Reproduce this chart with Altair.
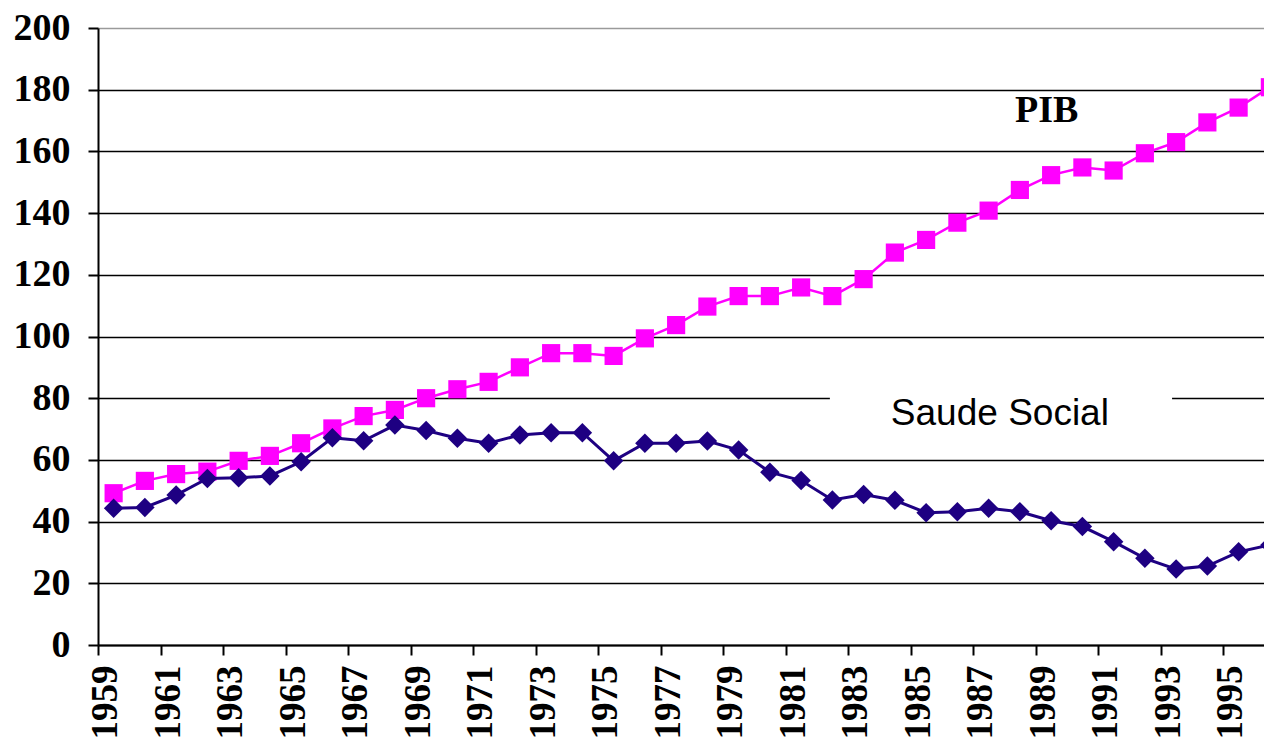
import altair as alt
import pandas as pd

# ---- data ----
years = list(range(1959, 1997))
pib = [49.2, 53.2, 55.4, 56.2, 59.7, 61.3, 65.4, 70.2, 74.2, 76.2,
       80.0, 82.9, 85.3, 90.0, 94.6, 94.6, 93.7, 99.4, 103.7, 109.7,
       113.1, 113.1, 115.9, 113.1, 118.6, 127.2, 131.3, 136.9, 140.8, 147.5,
       152.3, 154.8, 153.8, 159.4, 163.0, 169.4, 174.2, 180.8]
saude = [44.3, 44.6, 48.6, 54.0, 54.2, 54.8, 59.4, 67.2, 66.2, 71.3,
         69.5, 67.0, 65.4, 68.1, 68.8, 68.8, 59.7, 65.4, 65.4, 66.1,
         63.2, 56.0, 53.3, 47.0, 48.8, 46.9, 42.9, 43.2, 44.3, 43.2,
         40.3, 38.4, 33.5, 28.1, 24.6, 25.6, 30.2, 32.4]
y_ticks = list(range(0, 201, 20))
# ticks sit on the boundaries between years; labels (every other year) sit mid-band
band_edges = [1958.5 + i for i in range(39)]

series_labels = ["PIB", "Saude Social"]

df = pd.DataFrame({"year": years, "pib": pib, "saude": saude})

# annotation placement (data units)
ann = pd.DataFrame({
    "label": series_labels,
    "x": [1988.86, 1987.36],
    "y": [169.6, 71.3],
})
mask = pd.DataFrame({"x": [1981.92], "x2": [1992.87], "y": [73.0], "y2": [86.0]})

PIB_COLOR = "#FF00FF"
SAUDE_COLOR = "#1E0082"

PLOT_W = 1166
BAND = 31.25  # px per year

# the plot is cut on the right, as in the reference
xscale = alt.Scale(domain=[1958.5, 1958.5 + PLOT_W / BAND], nice=False, zero=False)
yscale = alt.Scale(domain=[0, 200], nice=False)

is_label = "(datum.value + 0.5) % 2 == 1"

xaxis = alt.Axis(
    values=band_edges,
    grid=False,
    labelExpr=f"{is_label} ? '' + (datum.value + 0.5) : ''",
    labelAngle=270,
    labelAlign="right",
    labelBaseline="alphabetic",
    labelFont="Liberation Serif",
    labelFontWeight="bold",
    labelFontSize={"condition": {"test": is_label, "value": 37}, "value": 0},
    labelColor="black",
    labelPadding=10,
    labelOffset=BAND / 2 + 3,
    labelOverlap=False,
    labelFlush=False,
    labelBound=False,
    tickSize=10,
    tickWidth=2,
    tickColor="black",
    domainColor="black",
    domainWidth=2,
)

yaxis = alt.Axis(
    values=y_ticks,
    grid=True,
    gridColor={"condition": {"test": "datum.value == 200", "value": "#9a9a9a"}, "value": "black"},
    gridWidth=1.7,
    labelFont="Liberation Serif",
    labelFontWeight="bold",
    labelFontSize=38,
    labelColor="black",
    labelPadding=18,
    tickSize=10,
    tickWidth=2,
    tickColor="black",
    domainColor="black",
    domainWidth=2,
)

base = alt.Chart(df)

mask_layer = alt.Chart(mask).mark_rect(color="white").encode(
    x=alt.X("x:Q", scale=xscale, axis=xaxis, title=None),
    x2="x2:Q",
    y=alt.Y("y:Q", scale=yscale, axis=yaxis, title=None),
    y2="y2:Q",
)

pib_line = base.mark_line(color=PIB_COLOR, strokeWidth=2.5).encode(
    x=alt.X("year:Q", scale=xscale, axis=xaxis, title=None),
    y=alt.Y("pib:Q", scale=yscale, axis=yaxis, title=None),
)
pib_pts = base.mark_point(shape="square", filled=True, opacity=1, color=PIB_COLOR, size=330).encode(
    x="year:Q", y="pib:Q"
)
saude_line = base.mark_line(color=SAUDE_COLOR, strokeWidth=3).encode(
    x="year:Q", y="saude:Q"
)
saude_pts = base.mark_point(shape="diamond", filled=True, opacity=1, color=SAUDE_COLOR, size=380).encode(
    x="year:Q", y="saude:Q"
)

pib_text = alt.Chart(ann[ann.label == "PIB"]).mark_text(
    font="Liberation Serif", fontWeight="bold", fontSize=38, color="black",
    align="center", baseline="alphabetic"
).encode(x="x:Q", y="y:Q", text="label:N")

saude_text = alt.Chart(ann[ann.label == "Saude Social"]).mark_text(
    font="Liberation Sans", fontSize=37, color="black",
    align="center", baseline="alphabetic"
).encode(x="x:Q", y="y:Q", text="label:N")

chart = alt.layer(
    mask_layer, pib_line, pib_pts, saude_line, saude_pts, pib_text, saude_text
).properties(
    width=PLOT_W,
    height=617,
    autosize=alt.AutoSizeParams(type="none"),
    padding={"left": 90, "top": 20, "right": 0, "bottom": 103},
).configure_view(strokeWidth=0)

chart.save("out.html", embed_options={"renderer": "svg", "actions": False})
